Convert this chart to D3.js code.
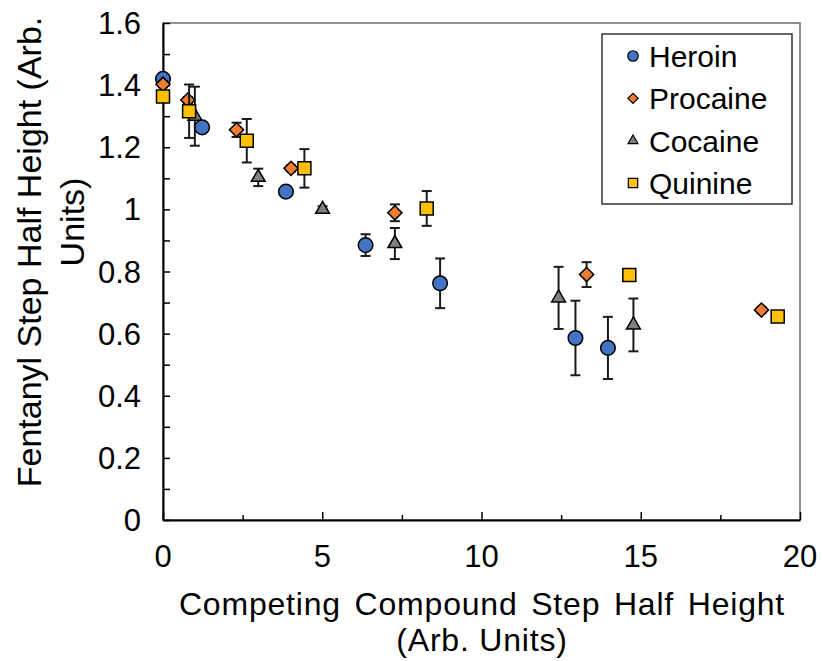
<!DOCTYPE html>
<html>
<head>
<meta charset="utf-8">
<script src="https://cdn.jsdelivr.net/npm/d3@7"></script>
<style>
  html, body { margin: 0; padding: 0; background: #fff; }
  svg { display: block; font-family: "Liberation Sans", Arial, sans-serif; }
</style>
</head>
<body>
<svg id="chart" width="822" height="661"></svg>
<script>
// Series: competing compound step half height (x), fentanyl step half height (y), error (±y)
const heroinX = [0, 1.23, 3.86, 6.36, 8.70, 12.95, 13.97];
const heroinY = [1.42, 1.264, 1.057, 0.885, 0.762, 0.586, 0.554];
const heroinErr = [0.01, 0.01, 0.01, 0.035, 0.08, 0.12, 0.10];

const procaineX = [0, 0.78, 2.31, 4.02, 7.28, 13.30, 18.79];
const procaineY = [1.403, 1.352, 1.256, 1.132, 0.989, 0.79, 0.676];
const procaineErr = [0.01, 0.01, 0.023, 0.01, 0.027, 0.04, 0.01];

const cocaineX = [1.0, 2.99, 5.01, 7.28, 12.42, 14.77];
const cocaineY = [1.30, 1.103, 1.0, 0.89, 0.715, 0.628];
const cocaineErr = [0.095, 0.028, 0.01, 0.05, 0.10, 0.085];

const quinineX = [0, 0.82, 2.63, 4.44, 8.28, 14.64, 19.30];
const quinineY = [1.363, 1.316, 1.221, 1.132, 1.003, 0.789, 0.655];
const quinineErr = [0.01, 0.086, 0.07, 0.062, 0.056, 0.01, 0.01];

const seriesNames = ["Heroin", "Procaine", "Cocaine", "Quinine"];
const xTicks = [0, 5, 10, 15, 20];
const xMinorTicks = [2.5, 7.5, 12.5, 17.5];
const yTicks = [0, 0.2, 0.4, 0.6, 0.8, 1.0, 1.2, 1.4, 1.6];
const yMinorTicks = [0.1, 0.3, 0.5, 0.7, 0.9, 1.1, 1.3, 1.5];

const series = [
  { name: seriesNames[0], xs: heroinX, ys: heroinY, es: heroinErr, color: "#4472C4", shape: "circle" },
  { name: seriesNames[1], xs: procaineX, ys: procaineY, es: procaineErr, color: "#ED7D31", shape: "diamond" },
  { name: seriesNames[2], xs: cocaineX, ys: cocaineY, es: cocaineErr, color: "#7F7F7F", shape: "triangle" },
  { name: seriesNames[3], xs: quinineX, ys: quinineY, es: quinineErr, color: "#FFC000", shape: "square" }
];

const svg = d3.select("#chart");
const plotL = 163, plotR = 800, plotT = 23, plotB = 520;

const x = d3.scaleLinear().domain([0, 20]).range([plotL, plotR]);
const y = d3.scaleLinear().domain([0, 1.6]).range([plotB, plotT]);

// marker path generators (size = area in px²)
function markerPath(shape, scale) {
  const s = scale || 1;
  if (shape === "circle") return d3.symbol(d3.symbolCircle, Math.PI * 7.3 * 7.3 * s * s)();
  if (shape === "square") return d3.symbol(d3.symbolSquare, 13 * 13 * s * s)();
  if (shape === "diamond") return d3.symbol(d3.symbolSquare, 10 * 10 * s * s)();
  if (shape === "triangle") return d3.symbol(d3.symbolTriangle, 82 * s * s)();
}

// plot-area border (top/right)
svg.append("rect")
  .attr("x", plotL).attr("y", plotT)
  .attr("width", plotR - plotL).attr("height", plotB - plotT)
  .attr("fill", "none").attr("stroke", "#6e6e6e").attr("stroke-width", 1.5);

// axes (inside ticks)
svg.append("g").attr("transform", `translate(0,${plotB})`)
  .call(d3.axisBottom(x).tickValues(xTicks).tickSizeInner(-8).tickSizeOuter(0).tickFormat(""));
svg.append("g").attr("transform", `translate(0,${plotB})`)
  .call(d3.axisBottom(x).tickValues(xMinorTicks).tickSizeInner(-5).tickSizeOuter(0).tickFormat(""))
  .select(".domain").remove();
svg.append("g").attr("transform", `translate(${plotL},0)`)
  .call(d3.axisLeft(y).tickValues(yTicks).tickSizeInner(-7).tickSizeOuter(0).tickFormat(""));
svg.append("g").attr("transform", `translate(${plotL},0)`)
  .call(d3.axisLeft(y).tickValues(yMinorTicks).tickSizeInner(-7).tickSizeOuter(0).tickFormat(""))
  .select(".domain").remove();
svg.selectAll(".domain").attr("stroke", "#000").attr("stroke-width", 2);
svg.selectAll(".tick line").attr("stroke", "#000").attr("stroke-width", 1.5);

// tick labels
svg.append("g").selectAll("text").data(xTicks).join("text")
  .attr("x", d => x(d)).attr("y", 567)
  .attr("text-anchor", "middle").attr("font-size", 31).attr("fill", "#000")
  .text(d => d);
svg.append("g").selectAll("text").data(yTicks).join("text")
  .attr("x", 141).attr("y", d => y(d) + 11)
  .attr("text-anchor", "end").attr("font-size", 31).attr("fill", "#000")
  .text(d => String(+d.toFixed(1)));

// axis titles
svg.append("text").attr("x", 482).attr("y", 615)
  .attr("text-anchor", "middle").attr("font-size", 32).attr("fill", "#000")
  .attr("word-spacing", 4).attr("letter-spacing", 0.8)
  .text("Competing Compound Step Half Height");
svg.append("text").attr("x", 482).attr("y", 651)
  .attr("text-anchor", "middle").attr("font-size", 32).attr("fill", "#000")
  .attr("letter-spacing", 0.8)
  .text("(Arb. Units)");
const yTitle = svg.append("g").attr("transform", "translate(41,252) rotate(-90)");
yTitle.append("text").attr("x", 0).attr("y", 0)
  .attr("text-anchor", "middle").attr("font-size", 34).attr("fill", "#000")
  .text("Fentanyl Step Half Height (Arb.");
yTitle.append("text").attr("x", 30).attr("y", 43)
  .attr("text-anchor", "middle").attr("font-size", 34).attr("fill", "#000")
  .text("Units)");

// error bars + markers, one series at a time
series.forEach(s => {
  const pts = s.xs.map((v, i) => ({ x: v, y: s.ys[i], e: s.es[i] }));
  const g = svg.append("g");
  const eb = g.selectAll("g.eb").data(pts).join("g").attr("class", "eb");
  eb.append("line")
    .attr("x1", d => x(d.x)).attr("x2", d => x(d.x))
    .attr("y1", d => y(d.y - d.e)).attr("y2", d => y(d.y + d.e));
  eb.append("line")
    .attr("x1", d => x(d.x) - 5).attr("x2", d => x(d.x) + 5)
    .attr("y1", d => y(d.y + d.e)).attr("y2", d => y(d.y + d.e));
  eb.append("line")
    .attr("x1", d => x(d.x) - 5).attr("x2", d => x(d.x) + 5)
    .attr("y1", d => y(d.y - d.e)).attr("y2", d => y(d.y - d.e));
  eb.selectAll("line").attr("stroke", "#1a1a1a").attr("stroke-width", 2);
  g.selectAll("path.mk").data(pts).join("path").attr("class", "mk")
    .attr("d", markerPath(s.shape))
    .attr("transform", d => `translate(${x(d.x)},${y(d.y)})` + (s.shape === "diamond" ? " rotate(45)" : ""))
    .attr("fill", s.color).attr("stroke", "#000").attr("stroke-width", 1.5);
});

// legend
const lg = svg.append("g");
lg.append("rect").attr("x", 602).attr("y", 34).attr("width", 190).attr("height", 170)
  .attr("fill", "#fff").attr("stroke", "#333").attr("stroke-width", 1.5);
const legendY = d3.scalePoint().domain(seriesNames).range([56, 183]);
series.forEach(s => {
  lg.append("path").attr("d", markerPath(s.shape, 0.72))
    .attr("transform", `translate(633,${legendY(s.name)})` + (s.shape === "diamond" ? " rotate(45)" : ""))
    .attr("fill", s.color).attr("stroke", "#000").attr("stroke-width", 1.2);
  lg.append("text").attr("x", 649).attr("y", legendY(s.name) + 11)
    .attr("font-size", 30).attr("fill", "#000").text(s.name);
});
</script>
</body>
</html>
